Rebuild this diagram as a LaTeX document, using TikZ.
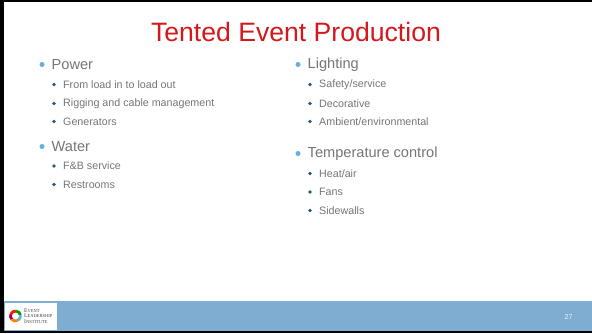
\documentclass[tikz,border=0pt]{standalone}
\usepackage{fontspec}
\setmainfont{Liberation Sans}
\newfontfamily\logofont{Liberation Serif}
\definecolor{titlered}{HTML}{D5181C}
\definecolor{bodygray}{HTML}{767676}
\definecolor{bulA}{HTML}{62B0DC}
\definecolor{bulB}{HTML}{1F5D80}
\definecolor{barblue}{HTML}{7FADD2}
\newcommand{\capsm}[2]{{\fontsize{5.7}{5}\selectfont #1}{\fontsize{4.5}{5}\selectfont #2}}
\tikzset{
  x=1pt,y=-1pt,
  head/.style={anchor=west,inner sep=0pt,text=bodygray,font=\fontsize{14.6}{16}\selectfont},
  sub/.style={anchor=west,inner sep=0pt,text=bodygray,font=\fontsize{10.7}{12}\selectfont},
  bigdot/.style={circle,fill=bulA,inner sep=0pt,minimum size=5pt},
  smalldot/.style={circle,fill=bulB,inner sep=0pt,minimum size=3.6pt},
  arcseg/.style={line width=2.8pt}
}
\begin{document}
\begin{tikzpicture}
\useasboundingbox (0,0) rectangle (592,333);
\fill[black] (0,0) rectangle (592,333);
\fill[white] (4,2) rectangle (592,331);
\fill[barblue] (4,301) rectangle (592,331);
\fill[white] (5,302.5) rectangle (57,329.5);
\node[anchor=center,inner sep=0pt,text=titlered,font=\fontsize{26.6}{30}\selectfont] (title) at (296,32) {Tented Event Production};
% left column
\node[bigdot] (b1) at (42,64.5) {};
\node[head] (t1) at (51.5,64.5) {Power};
\node[smalldot] (b2) at (54,84.5) {};
\node[sub] (t2) at (63,84.5) {From load in to load out};
\node[smalldot] (b3) at (54,103.5) {};
\node[sub] (t3) at (63,103.5) {Rigging and cable management};
\node[smalldot] (b4) at (54,121.5) {};
\node[sub] (t4) at (63,121.5) {Generators};
\node[bigdot] (b5) at (42,146.5) {};
\node[head] (t5) at (51.5,146.5) {Water};
\node[smalldot] (b6) at (54,166) {};
\node[sub] (t6) at (63,166) {F\&B service};
\node[smalldot] (b7) at (54,184.5) {};
\node[sub] (t7) at (63,184.5) {Restrooms};
% right column
\node[bigdot] (c1) at (298,64.5) {};
\node[head] (u1) at (307.5,64.5) {Lighting};
\node[smalldot] (c2) at (310,84.5) {};
\node[sub] (u2) at (319,84.5) {Safety/service};
\node[smalldot] (c3) at (310,103.5) {};
\node[sub] (u3) at (319,103.5) {Decorative};
\node[smalldot] (c4) at (310,121.5) {};
\node[sub] (u4) at (319,121.5) {Ambient/environmental};
\node[bigdot] (c5) at (298,153.5) {};
\node[head] (u5) at (307.5,153.5) {Temperature control};
\node[smalldot] (c6) at (310,173.5) {};
\node[sub] (u6) at (319,173.5) {Heat/air};
\node[smalldot] (c7) at (310,192) {};
\node[sub] (u7) at (319,192) {Fans};
\node[smalldot] (c8) at (310,210.5) {};
\node[sub] (u8) at (319,210.5) {Sidewalls};
% logo
\coordinate (lc) at (15.5,316);
\draw[arcseg,draw=red!80!orange] ([shift={(-160:5)}]lc) arc (-160:-85:5);
\draw[arcseg,draw=green!60!black] ([shift={(-85:5)}]lc) arc (-85:-10:5);
\draw[arcseg,draw=bulA] ([shift={(-10:5)}]lc) arc (-10:65:5);
\draw[arcseg,draw=orange] ([shift={(65:5)}]lc) arc (65:140:5);
\draw[arcseg,draw=violet!70!red] ([shift={(140:5)}]lc) arc (140:200:5);
\node[anchor=west,inner sep=0pt,align=left,text=black!75,font=\logofont\fontsize{5}{5.5}\selectfont] (logo) at (24,315.7) {\capsm{E}{VENT}\\\capsm{L}{EADERSHIP}\\\capsm{I}{NSTITUTE}};
\node[anchor=center,inner sep=0pt,text=white!85!barblue,font=\fontsize{7}{8}\selectfont] (num) at (568.5,317) {27};
\end{tikzpicture}
\end{document}
